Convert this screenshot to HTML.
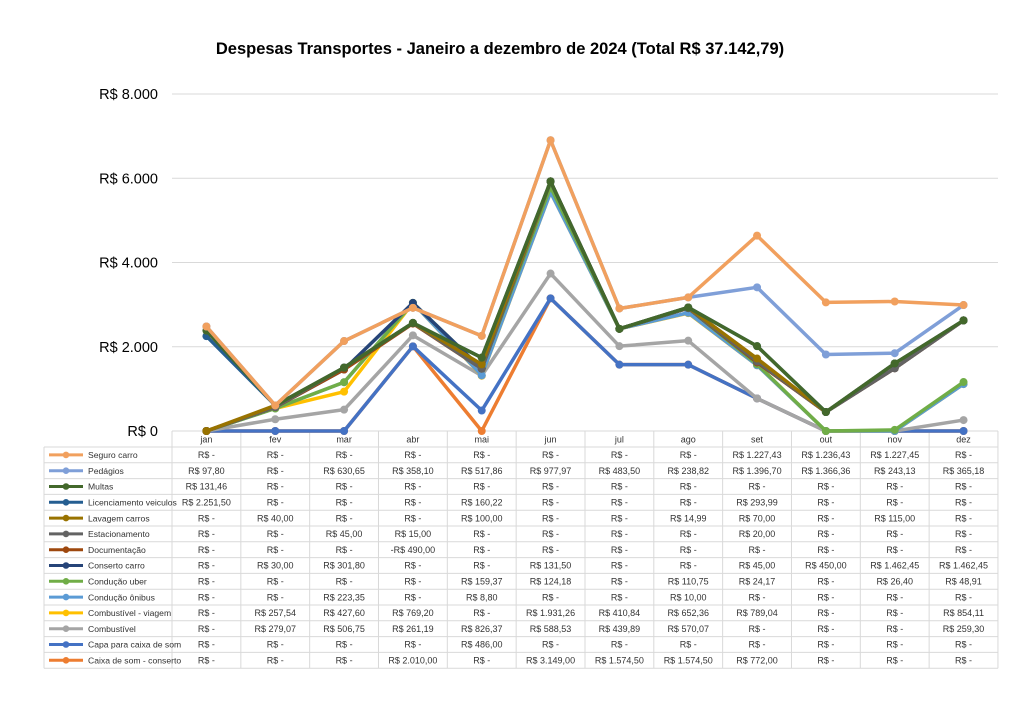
<!DOCTYPE html>
<html><head><meta charset="utf-8"><style>
body{margin:0;background:#fff;width:1024px;height:709px;overflow:hidden;font-family:"Liberation Sans",sans-serif}
svg{position:absolute;left:0;top:0}
</style></head><body>
<svg id="s" width="1024" height="709" xmlns="http://www.w3.org/2000/svg"></svg>
<script>
const names=["Seguro carro","Pedágios","Multas","Licenciamento veiculos","Lavagem carros","Estacionamento","Documentação","Conserto carro","Condução uber","Condução ônibus","Combustível - viagem","Combustível","Capa para caixa de som","Caixa de som - conserto"];
const cols=["#F1A05E","#7F9FD8","#43682B","#255E91","#997300","#636363","#9E480E","#264478","#70AD47","#5B9BD5","#FFC000","#A5A5A5","#4472C4","#ED7D31"];
const D=[
[0,0,0,0,0,0,0,0,1227.43,1236.43,1227.45,0],
[97.8,0,630.65,358.1,517.86,977.97,483.5,238.82,1396.7,1366.36,243.13,365.18],
[131.46,0,0,0,0,0,0,0,0,0,0,0],
[2251.5,0,0,0,160.22,0,0,0,293.99,0,0,0],
[0,40,0,0,100,0,0,14.99,70,0,115,0],
[0,0,45,15,0,0,0,0,20,0,0,0],
[0,0,0,-490,0,0,0,0,0,0,0,0],
[0,30,301.8,0,0,131.5,0,0,45,450,1462.45,1462.45],
[0,0,0,0,159.37,124.18,0,110.75,24.17,0,26.4,48.91],
[0,0,223.35,0,8.8,0,0,10,0,0,0,0],
[0,257.54,427.6,769.2,0,1931.26,410.84,652.36,789.04,0,0,854.11],
[0,279.07,506.75,261.19,826.37,588.53,439.89,570.07,0,0,0,259.3],
[0,0,0,0,486,0,0,0,0,0,0,0],
[0,0,0,2010,0,3149,1574.5,1574.5,772,0,0,0]];
const months=["jan","fev","mar","abr","mai","jun","jul","ago","set","out","nov","dez"];
function fmt(v){if(v===0)return "R$ -";let neg=v<0;v=Math.abs(v);let p=v.toFixed(2).split(".");p[0]=p[0].replace(/\B(?=(\d{3})+(?!\d))/g,".");return (neg?"-":"")+"R$ "+p[0]+","+p[1];}
const X0=172,CW=68.83,Y0=431,K=337/8000;
let h='<text x="500" y="54" text-anchor="middle" font-size="16.5" font-weight="bold" fill="#000">Despesas Transportes - Janeiro a dezembro de 2024 (Total R$ 37.142,79)</text>';
[8000,6000,4000,2000,0].forEach(v=>{let y=Y0-v*K;if(v)h+=`<line x1="${X0}" x2="998" y1="${y}" y2="${y}" stroke="#d9d9d9" stroke-width="1"/>`;h+=`<text x="158" y="${y+5}" text-anchor="end" font-size="14.5" fill="#000">R$ ${v?v.toLocaleString('de-DE'):0}</text>`});
const RT=447,RH=15.8;
h+=`<line x1="${X0}" x2="998" y1="${Y0}" y2="${Y0}" stroke="#d9d9d9"/>`;
for(let i=0;i<=14;i++){let y=RT+i*RH;h+=`<line x1="44" x2="998" y1="${y}" y2="${y}" stroke="#d9d9d9"/>`}
h+=`<line x1="44" x2="44" y1="${RT}" y2="${RT+14*RH}" stroke="#d9d9d9"/>`;
for(let j=0;j<=12;j++){let x=X0+j*CW;h+=`<line x1="${x}" x2="${x}" y1="${Y0}" y2="${RT+14*RH}" stroke="#d9d9d9"/>`}
months.forEach((m,j)=>h+=`<text x="${X0+(j+.5)*CW}" y="${Y0+11.5}" text-anchor="middle" font-size="9" fill="#333">${m}</text>`);
names.forEach((n,i)=>{let y=RT+i*RH+RH/2;h+=`<line x1="49" x2="83" y1="${y}" y2="${y}" stroke="${cols[i]}" stroke-width="3"/><circle cx="66" cy="${y}" r="3.3" fill="${cols[i]}"/><text x="88" y="${y+3.2}" font-size="8.6" fill="#333">${n}</text>`;
D[i].forEach((v,j)=>h+=`<text x="${X0+(j+.5)*CW}" y="${y+3.2}" text-anchor="middle" font-size="9" fill="#333">${fmt(v)}</text>`)});
let cum=new Array(12).fill(0),lines=[];
for(let i=13;i>=0;i--){cum=cum.map((c,j)=>c+D[i][j]);lines.push([i,cum.slice()])}
lines.forEach(([i,c])=>{let pts=c.map((v,j)=>`${X0+(j+.5)*CW},${Y0-v*K}`).join(" ");h+=`<polyline points="${pts}" fill="none" stroke="${cols[i]}" stroke-width="3.5" stroke-linejoin="round"/>`;c.forEach((v,j)=>h+=`<circle cx="${X0+(j+.5)*CW}" cy="${Y0-v*K}" r="4" fill="${cols[i]}"/>`)});
document.getElementById("s").innerHTML=h;
</script>
</body></html>
